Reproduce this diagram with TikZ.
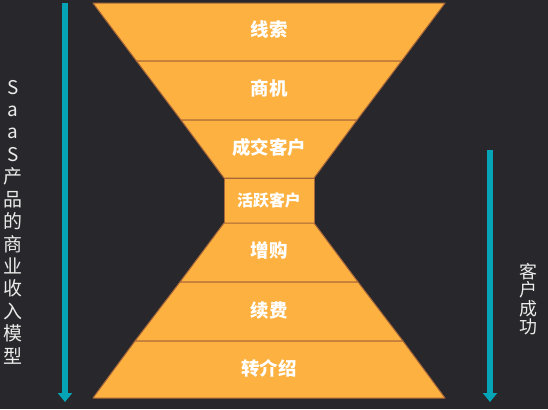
\documentclass[tikz,border=0pt]{standalone}
\usepackage{fontspec}
\newfontfamily\cjk{Noto Sans CJK SC}
\usetikzlibrary{arrows.meta}
\definecolor{bgdark}{HTML}{28282C}
\definecolor{funnel}{HTML}{FCB140}
\definecolor{seam}{HTML}{A8663A}
\definecolor{flowteal}{HTML}{05A5B7}
\begin{document}
\begin{tikzpicture}[x=1bp,y=-1bp,line join=round,
	band/.style={fill=funnel,draw=seam,line width=1bp},
	lbl/.style={text=white,font=\cjk\bfseries\fontsize{18.5}{20}\selectfont},
	flow/.style={draw=flowteal,line width=6bp,-{Triangle[width=14bp,length=9bp]}},
	vtext/.style={text=white!92!black,align=center,inner sep=0pt}]
	\def\cx{269}
	\fill[bgdark] (0,0) rectangle (548,409);
	% upper funnel
	\foreach \ya/\wa/\yb/\wb in {3/176/61/132.5,61/132.5/120/88,120/88/178/45}
		\draw[band] (\cx-\wa,\ya)--(\cx+\wa,\ya)--(\cx+\wb,\yb)--(\cx-\wb,\yb)--cycle;
	% middle
	\draw[band] (\cx-45,178) rectangle (\cx+45,223);
	% lower funnel
	\foreach \ya/\wa/\yb/\wb in {223/45/282/89,282/89/341/134,341/134/398/176}
		\draw[band] (\cx-\wa,\ya)--(\cx+\wa,\ya)--(\cx+\wb,\yb)--(\cx-\wb,\yb)--cycle;
	\node[lbl] (xiansuo) at (\cx,29) {线索};
	\node[lbl] (shangji) at (\cx,88) {商机};
	\node[lbl] (chengjiao) at (\cx,147) {成交客户};
	\node[lbl,font=\cjk\bfseries\fontsize{16}{18}\selectfont] (huoyue) at (\cx,200) {活跃客户};
	\node[lbl] (zenggou) at (\cx,250) {增购};
	\node[lbl] (xufei) at (\cx,310) {续费};
	\node[lbl] (zhuanjie) at (\cx,368) {转介绍};
	% arrows
	\coordinate (lefttop) at (65,3);
	\coordinate (leftend) at (65,402);
	\coordinate (righttop) at (490,150);
	\coordinate (rightend) at (490,402);
	\draw[flow] (lefttop)--(leftend);
	\draw[flow] (righttop)--(rightend);
	\node[vtext,font=\cjk\fontsize{19}{22.5}\selectfont] (model) at (13,222)
		{S\\a\\a\\S\\产\\品\\的\\商\\业\\收\\入\\模\\型};
	\node[vtext,font=\cjk\fontsize{18}{18.5}\selectfont] (success) at (528,299)
		{客\\户\\成\\功};
\end{tikzpicture}
\end{document}
